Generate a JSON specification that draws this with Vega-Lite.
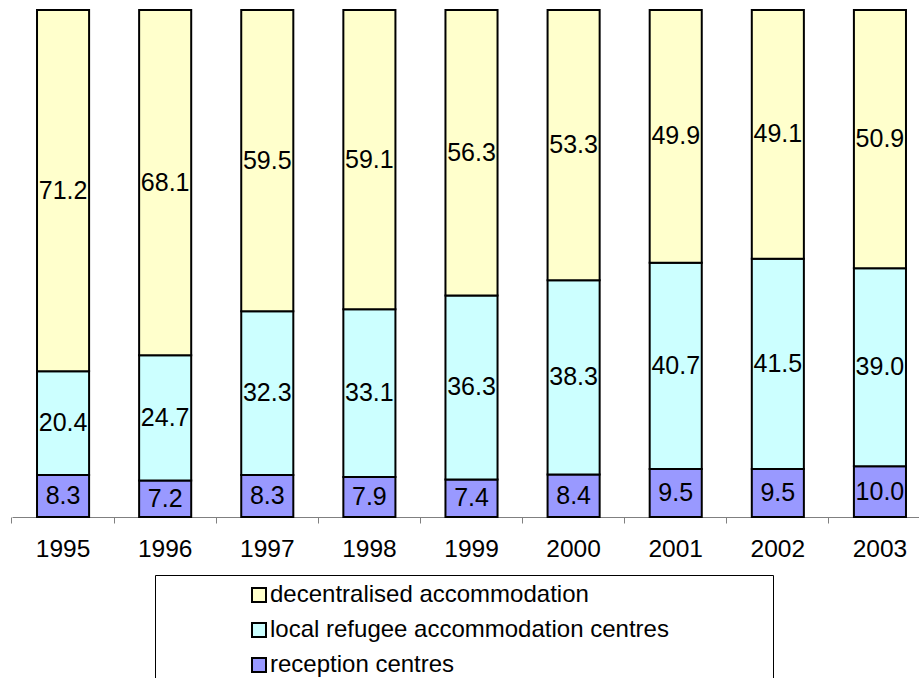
{
  "$schema": "https://vega.github.io/schema/vega-lite/v6.json",
  "autosize": "none",
  "width": 919,
  "height": 507,
  "padding": {"left": 12, "top": 10, "right": 0, "bottom": 161},
  "background": "white",
  "config": {
    "view": {"stroke": null},
    "font": "Liberation Sans"
  },
  "data": {
    "values": [
      {"year": "1995", "type": "reception centres", "ord": 1, "value": 8.3},
      {"year": "1995", "type": "local refugee accommodation centres", "ord": 2, "value": 20.4},
      {"year": "1995", "type": "decentralised accommodation", "ord": 3, "value": 71.2},
      {"year": "1996", "type": "reception centres", "ord": 1, "value": 7.2},
      {"year": "1996", "type": "local refugee accommodation centres", "ord": 2, "value": 24.7},
      {"year": "1996", "type": "decentralised accommodation", "ord": 3, "value": 68.1},
      {"year": "1997", "type": "reception centres", "ord": 1, "value": 8.3},
      {"year": "1997", "type": "local refugee accommodation centres", "ord": 2, "value": 32.3},
      {"year": "1997", "type": "decentralised accommodation", "ord": 3, "value": 59.5},
      {"year": "1998", "type": "reception centres", "ord": 1, "value": 7.9},
      {"year": "1998", "type": "local refugee accommodation centres", "ord": 2, "value": 33.1},
      {"year": "1998", "type": "decentralised accommodation", "ord": 3, "value": 59.1},
      {"year": "1999", "type": "reception centres", "ord": 1, "value": 7.4},
      {"year": "1999", "type": "local refugee accommodation centres", "ord": 2, "value": 36.3},
      {"year": "1999", "type": "decentralised accommodation", "ord": 3, "value": 56.3},
      {"year": "2000", "type": "reception centres", "ord": 1, "value": 8.4},
      {"year": "2000", "type": "local refugee accommodation centres", "ord": 2, "value": 38.3},
      {"year": "2000", "type": "decentralised accommodation", "ord": 3, "value": 53.3},
      {"year": "2001", "type": "reception centres", "ord": 1, "value": 9.5},
      {"year": "2001", "type": "local refugee accommodation centres", "ord": 2, "value": 40.7},
      {"year": "2001", "type": "decentralised accommodation", "ord": 3, "value": 49.9},
      {"year": "2002", "type": "reception centres", "ord": 1, "value": 9.5},
      {"year": "2002", "type": "local refugee accommodation centres", "ord": 2, "value": 41.5},
      {"year": "2002", "type": "decentralised accommodation", "ord": 3, "value": 49.1},
      {"year": "2003", "type": "reception centres", "ord": 1, "value": 10.0},
      {"year": "2003", "type": "local refugee accommodation centres", "ord": 2, "value": 39.0},
      {"year": "2003", "type": "decentralised accommodation", "ord": 3, "value": 50.9}
    ]
  },
  "transform": [
    {"stack": "value", "groupby": ["year"], "sort": [{"field": "ord", "order": "ascending"}], "offset": "normalize", "as": ["v0", "v1"]}
  ],
  "encoding": {
    "x": {
      "field": "year", "type": "nominal", "sort": null,
      "scale": {"paddingInner": 0.49, "paddingOuter": 0.245},
      "axis": {
        "title": null, "labelAngle": 0, "bandPosition": -0.4804,
        "domainColor": "#808080", "tickColor": "#808080", "tickSize": 6,
        "labelFont": "Liberation Sans", "labelFontSize": 24.5, "labelColor": "black",
        "labelPadding": 14, "grid": false
      }
    }
  },
  "layer": [
    {
      "mark": {"type": "bar", "stroke": "black", "strokeWidth": 2},
      "encoding": {
        "y": {"field": "v0", "type": "quantitative", "stack": null, "scale": {"domain": [0, 1], "nice": false}, "axis": null},
        "y2": {"field": "v1"},
        "color": {
          "field": "type", "type": "nominal",
          "scale": {
            "domain": ["decentralised accommodation", "local refugee accommodation centres", "reception centres"],
            "range": ["#FFFFCC", "#CCFFFF", "#9999FF"]
          },
          "legend": {
            "title": "\u00a0", "titleOrient": "right", "titleFontSize": 2, "titlePadding": 96,
            "orient": "none", "legendX": 143, "legendY": 565,
            "padding": 8, "fillColor": "white", "strokeColor": "black",
            "symbolType": "square", "symbolSize": 196, "symbolStrokeColor": "black", "symbolStrokeWidth": 2, "symbolOpacity": 1,
            "symbolOffset": 84,
            "labelFont": "Liberation Sans", "labelFontSize": 24, "labelColor": "black", "labelOffset": -1, "labelLimit": 0,
            "rowPadding": 11
          }
        }
      }
    },
    {
      "transform": [{"calculate": "(datum.v0 + datum.v1) / 2", "as": "vmid"}],
      "mark": {"type": "text", "font": "Liberation Sans", "fontSize": 25, "color": "black", "baseline": "middle", "align": "center"},
      "encoding": {
        "y": {"field": "vmid", "type": "quantitative", "stack": null, "scale": {"domain": [0, 1], "nice": false}, "axis": null},
        "text": {"field": "value", "type": "quantitative", "format": ".1f"}
      }
    }
  ]
}
